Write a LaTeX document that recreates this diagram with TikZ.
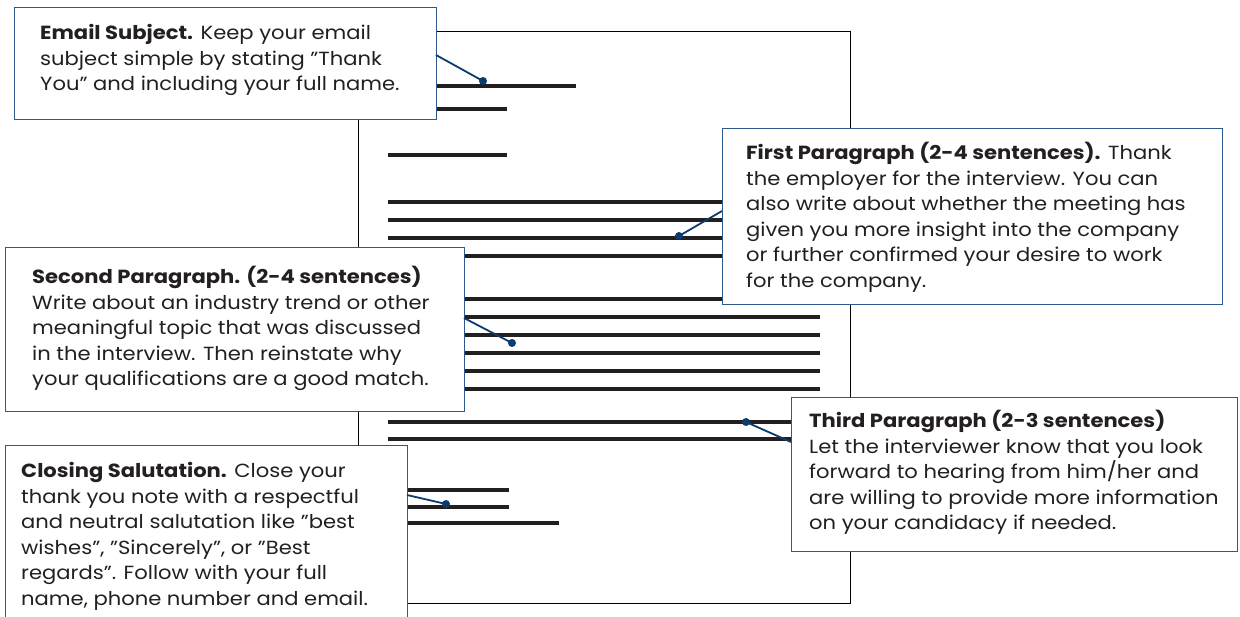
\documentclass[tikz,border=0pt]{standalone}
\usepackage{fontspec}
\setmainfont{Poppins}[FakeStretch=1.11]
\definecolor{txt}{RGB}{35,31,32}
\definecolor{boxblue}{RGB}{44,90,140}
\definecolor{leadblue}{RGB}{12,60,110}
\newcommand{\calltext}[2]{\parbox[t]{#1}{\raggedright #2}}
\begin{document}
\begin{tikzpicture}[x=1pt,y=-1pt,
  docline/.style={line width=4.5pt, draw=txt},
  page/.style={draw=black, line width=1.3pt, fill=white, inner sep=0pt, anchor=north west},
  callout/.style={draw=boxblue, line width=1.4pt, fill=white, inner sep=0pt, anchor=north west},
  lead/.style={draw=leadblue, line width=1.8pt},
  dotmark/.style={circle, fill=leadblue, inner sep=0pt, minimum size=8pt},
  label/.style={anchor=base west, inner sep=0pt, text=txt, font=\fontsize{19}{25.5}\selectfont}]
\useasboundingbox (0,0) rectangle (1240,617);
\clip (0,0) rectangle (1240,617);
% page
\node[page, minimum width=492pt, minimum height=572pt] (sheet) at (358,31) {};
% document lines
\foreach \yy/\xr in {86/576,109/507,155/507,
  202/820,220/820,238/820,256/820,
  299/820,317/820,335/820,353/820,371/820,389/820,
  422/820,439/820,
  490/509,507/509,523/559}
  \draw[docline] (388,\yy) -- (\xr,\yy);
% callout boxes
\node[callout, minimum width=422pt, minimum height=112pt] (email) at (14,7) {};
\node[callout, minimum width=500pt, minimum height=176pt] (first) at (722,128) {};
\node[callout, minimum width=459pt, minimum height=164pt] (second) at (5,247) {};
\node[callout, minimum width=446pt, minimum height=154pt] (third) at (791,397) {};
\node[callout, minimum width=402pt, minimum height=190pt] (closing) at (5,445) {};
% texts
\node[label] (emailtext) at (40,40) {\calltext{390pt}{\textbf{Email Subject.} Keep your email\\subject simple by stating "Thank\\You" and including your full name.}};
\node[label] (firsttext) at (746,160) {\calltext{470pt}{\textbf{First Paragraph (2-4 sentences).} Thank\\the employer for the interview. You can\\also write about whether the meeting has\\given you more insight into the company\\or further confirmed your desire to work\\for the company.}};
\node[label] (secondtext) at (32,284) {\calltext{430pt}{\textbf{Second Paragraph. (2-4 sentences)}\\Write about an industry trend or other\\meaningful topic that was discussed\\in the interview. Then reinstate why\\your qualifications are a good match.}};
\node[label] (thirdtext) at (809,428) {\calltext{425pt}{\textbf{Third Paragraph (2-3 sentences)}\\Let the interviewer know that you look\\forward to hearing from him/her and\\are willing to provide more information\\on your candidacy if needed.}};
\node[label] (closingtext) at (21,478) {\calltext{385pt}{\textbf{Closing Salutation.} Close your\\thank you note with a respectful\\and neutral salutation like "best\\wishes", "Sincerely", or "Best\\regards". Follow with your full\\name, phone number and email.}};
% lead anchors
\coordinate (es) at (436,55);
\coordinate (fs) at (722,211);
\coordinate (ss) at (464,318);
\coordinate (ts) at (791,442);
\coordinate (cs) at (407,495);
\node[dotmark] (de) at (483,81) {};
\node[dotmark] (df) at (679,236) {};
\node[dotmark] (ds) at (512,343) {};
\node[dotmark] (dt) at (746,422) {};
\node[dotmark] (dc) at (446,504) {};
\draw[lead] (es) -- (de.center);
\draw[lead] (fs) -- (df.center);
\draw[lead] (ss) -- (ds.center);
\draw[lead] (ts) -- (dt.center);
\draw[lead] (cs) -- (dc.center);
\end{tikzpicture}
\end{document}
